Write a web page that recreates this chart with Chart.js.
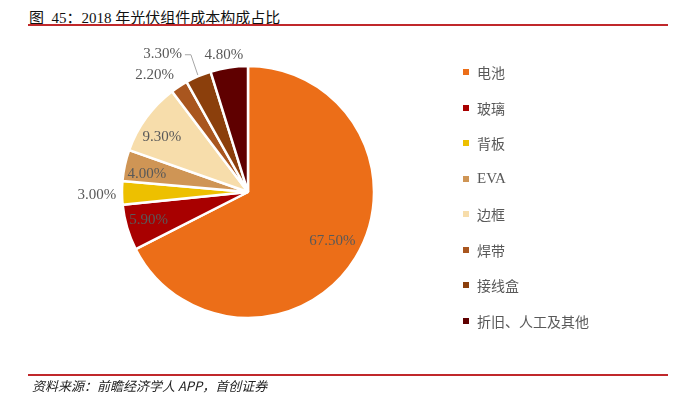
<!DOCTYPE html>
<html>
<head>
<meta charset="utf-8">
<script src="https://cdn.jsdelivr.net/npm/chart.js@4/dist/chart.umd.min.js"></script>
<style>
  body { margin: 0; background: #fff; }
  #wrap { position: relative; width: 683px; height: 397px; overflow: hidden; }
  #pie { position: absolute; left: 0; top: 0; }
  .title { position: absolute; left: 29px; top: 6px; font: 15px "Liberation Serif", "Noto Sans CJK SC", serif; color: #111; white-space: pre; }
  .rule { position: absolute; left: 28px; width: 640px; height: 2px; background: #c0282b; }
  .source { position: absolute; left: 32px; top: 376px; font: italic 13px "Noto Sans CJK SC", serif; color: #222; }
  #legend { position: absolute; left: 463px; top: 62px; }
  .item { height: 35.5px; display: flex; align-items: flex-start; font: 14px "Liberation Serif", "Noto Sans CJK SC", serif; color: #595959; }
  .item span.box { width: 6px; height: 6px; margin: 7px 8px 0 0; }
  .item span.lat { font-size: 15px; position: relative; top: 1px; }
</style>
</head>
<body>
<div id="wrap">
  <div class="title">图&nbsp; 45：2018 年光伏组件成本构成占比</div>
  <div class="rule" style="top:24px"></div>
  <canvas id="pie" width="683" height="397"></canvas>
  <div id="legend"></div>
  <div class="rule" style="top:374px"></div>
  <div class="source">资料来源：前瞻经济学人 APP，首创证券</div>
</div>
<script>
const categories = ["电池", "玻璃", "背板", "EVA", "边框", "焊带", "接线盒", "折旧、人工及其他"];
const shares = [67.5, 5.9, 3.0, 4.0, 9.3, 2.2, 3.3, 4.8];
const colors = ["#ec6e18", "#a80000", "#edc000", "#cf9555", "#f7ddab", "#a9561f", "#8b3f0c", "#5f0000"];

// label distance (in radii) and angle shift (deg) for each slice
const labelPlace = [
  { r: 0.775, da: -1.4 }, { r: 0.82, da: 0.7 }, { r: 1.2, da: -0.7 }, { r: 0.815, da: -2.1 },
  { r: 0.81, da: -3.7 }, { r: 1.19, da: -5.4 }, { r: 1.29, da: -8.5, leader: true }, { r: 1.1, da: -1.4 }
];

const pieLabels = {
  id: 'pieLabels',
  afterDatasetsDraw(chart) {
    const ctx = chart.ctx;
    const arcs = chart.getDatasetMeta(0).data;
    ctx.save();
    ctx.font = '15px "Liberation Serif", serif';
    ctx.fillStyle = '#595959';
    ctx.textAlign = 'center';
    ctx.textBaseline = 'middle';
    arcs.forEach((arc, i) => {
      const p = arc.getProps(['x', 'y', 'startAngle', 'endAngle', 'outerRadius'], true);
      const mid = (p.startAngle + p.endAngle) / 2;
      const pl = labelPlace[i];
      const a = mid + pl.da * Math.PI / 180;
      const lx = p.x + Math.cos(a) * p.outerRadius * pl.r;
      const ly = p.y + Math.sin(a) * p.outerRadius * pl.r;
      const txt = shares[i].toFixed(2) + '%';
      ctx.fillText(txt, lx, ly);
      if (pl.leader) {
        const w = ctx.measureText(txt).width;
        ctx.strokeStyle = '#a6a6a6';
        ctx.lineWidth = 1;
        ctx.beginPath();
        ctx.moveTo(lx + w / 2 + 3, ly + 1);
        ctx.lineTo(lx + w / 2 + 9, ly + 1);
        ctx.lineTo(p.x + Math.cos(mid) * p.outerRadius * 1.01, p.y + Math.sin(mid) * p.outerRadius * 1.01);
        ctx.stroke();
      }
    });
    ctx.restore();
  }
};

new Chart(document.getElementById('pie'), {
  type: 'pie',
  data: {
    labels: categories,
    datasets: [{
      data: shares,
      backgroundColor: colors,
      borderColor: '#ffffff',
      borderWidth: 2.5,
      radius: 126
    }]
  },
  options: {
    responsive: false,
    animation: false,
    layout: { padding: { left: 122, right: 309, top: 66, bottom: 79 } },
    plugins: {
      legend: { display: false },
      tooltip: { enabled: false }
    }
  },
  plugins: [pieLabels]
});

const legend = document.getElementById('legend');
categories.forEach((name, i) => {
  const row = document.createElement('div');
  row.className = 'item';
  const latin = /^[A-Za-z]+$/.test(name);
  row.innerHTML = '<span class="box" style="background:' + colors[i] + '"></span>' +
    (latin ? '<span class="lat">' + name + '</span>' : name);
  legend.appendChild(row);
});
</script>
</body>
</html>
